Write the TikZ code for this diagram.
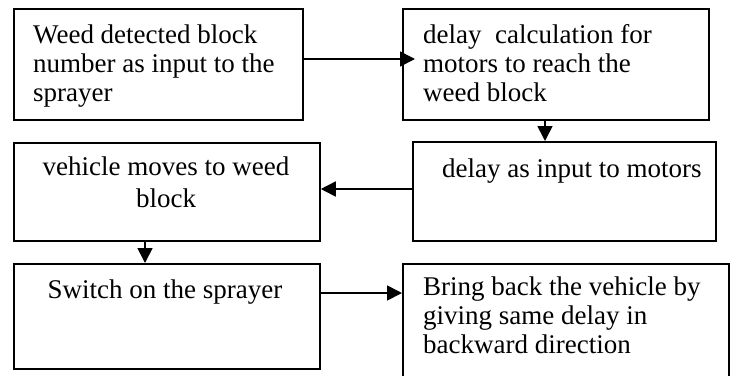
\documentclass[tikz,border=0pt]{standalone}
\usepackage{fontspec}
\setmainfont{Liberation Serif}
\usetikzlibrary{arrows.meta,calc}
\begin{document}
\begin{tikzpicture}[x=1pt,y=-1pt,
  box/.style={draw,line width=1.8pt,inner sep=0pt,anchor=north west},
  txt/.style={inner sep=0pt,font=\fontsize{27}{29}\selectfont},
  arr/.style={line width=1.7pt,-{Triangle[length=15pt,width=15pt]}}]
\useasboundingbox (0,0) rectangle (730,375);
\clip (0,0) rectangle (730,375);
% boxes
\node[box,minimum width=289pt,minimum height=111pt] (b1) at (13,8) {};
\node[box,minimum width=306pt,minimum height=111pt] (b2) at (402,8) {};
\node[box,minimum width=303pt,minimum height=99pt] (b3) at (412,141) {};
\node[box,minimum width=306pt,minimum height=98pt] (b4) at (13,142) {};
\node[box,minimum width=306pt,minimum height=105pt] (b5) at (13,263) {};
\node[box,minimum width=326pt,minimum height=130pt] (b6) at (402,263) {};
% texts
\node[txt,anchor=north west,align=left] (t1) at (33,24.6) {Weed detected block\\number as input to the\\sprayer};
\node[txt,anchor=north west,align=left] (t2) at (423,24.6) {delay\ \ calculation for\\motors to reach the\\weed block};
\node[txt,anchor=north west,align=left] (t3) at (442,158.6) {delay as input to motors};
\node[txt,anchor=north,align=center,font=\fontsize{27}{32}\selectfont] (t4) at (166,156.6) {vehicle moves to weed\\block};
\node[txt,anchor=north,align=center] (t5) at (165,279.6) {Switch on the sprayer};
\node[txt,anchor=north west,align=left] (t6) at (423,276.6) {Bring back the vehicle by\\giving same delay in\\backward direction};
% connectors
\draw[arr,shorten >=-13pt] (b1.east |- 0,59) -- (b2.west |- 0,59);
\draw[arr] (b2.south -| 545,0) -- (b3.north -| 545,0);
\draw[arr] (b3.west |- 0,189) -- (b4.east |- 0,189);
\draw[arr] (b4.south -| 145,0) -- (b5.north -| 145,0);
\draw[arr] (b5.east |- 0,293) -- (b6.west |- 0,293);
\end{tikzpicture}
\end{document}
